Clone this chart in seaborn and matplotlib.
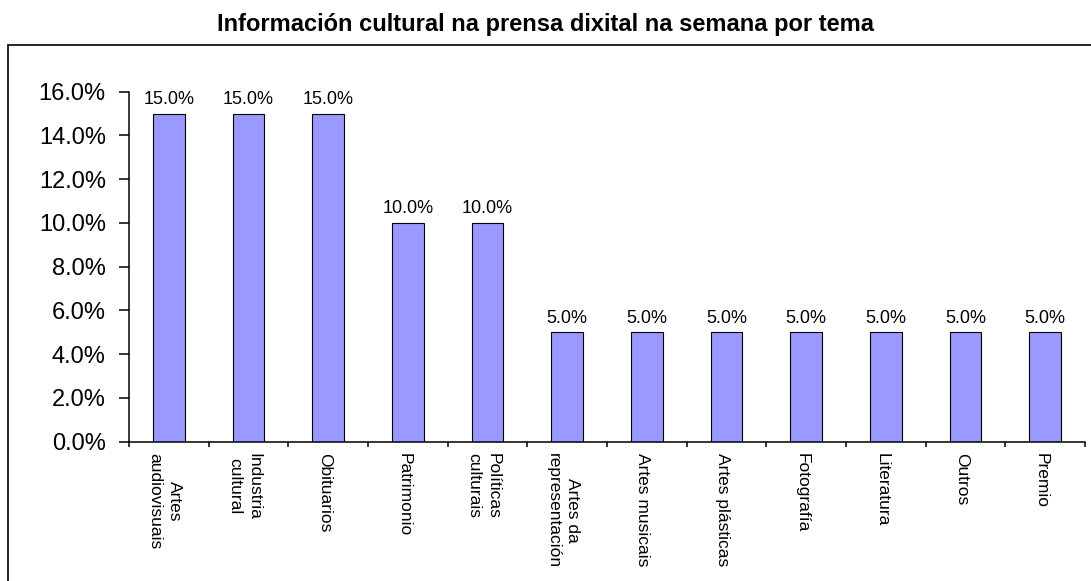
import matplotlib
matplotlib.use("Agg")
import matplotlib.pyplot as plt
from matplotlib.patches import Rectangle
from matplotlib.ticker import PercentFormatter, FixedLocator
from matplotlib.transforms import ScaledTranslation
import seaborn as sns
import numpy as np

# datos leídos do gráfico
categorias = ["Artes\naudiovisuais", "Industria\ncultural", "Obituarios",
              "Patrimonio", "Políticas\nculturais", "Artes da\nrepresentación",
              "Artes musicais", "Artes plásticas", "Fotografía", "Literatura",
              "Outros", "Premio"]
porcentaxes = [0.15, 0.15, 0.15, 0.10, 0.10, 0.05,
               0.05, 0.05, 0.05, 0.05, 0.05, 0.05]
yticks = [0.0, 0.02, 0.04, 0.06, 0.08, 0.10, 0.12, 0.14, 0.16]
titulo = "Información cultural na prensa dixital na semana por tema"

sns.set_style("white")
plt.rcParams['font.family'] = ['Liberation Sans', 'DejaVu Sans']
plt.rcParams['text.color'] = 'black'
plt.rcParams['xtick.color'] = 'black'
plt.rcParams['ytick.color'] = 'black'

fig = plt.figure(figsize=(10.91, 5.81), dpi=100)
ax = fig.add_axes([0.1182, 0.2398, 0.9945 - 0.1182, 0.8422 - 0.2398])

sns.barplot(x=categorias, y=porcentaxes, color="#9999FF", saturation=1,
            edgecolor="black", linewidth=0.8, width=0.4, ax=ax)

ax.set_xlim(-0.5, len(categorias) - 0.5)
ax.set_ylim(0, 0.16)
ax.set_yticks(yticks)
ax.yaxis.set_major_formatter(PercentFormatter(xmax=1, decimals=1))
ax.tick_params(axis="y", labelsize=17, length=7.2, width=1.1, pad=9.5,
               direction="out", left=True, color="black", labelcolor="black")

# etiquetas das categorías sen marca; marcas nos límites
ax.set_xticks(range(len(categorias)))
ax.set_xticklabels(categorias, rotation=270, fontsize=12.5,
                   multialignment="center", linespacing=1.35)
ax.tick_params(axis="x", which="major", length=0, pad=8, labelcolor="black")
ax.xaxis.set_minor_locator(FixedLocator(np.arange(-0.5, len(categorias), 1)))
ax.tick_params(axis="x", which="minor", length=3.6, width=1.1,
               direction="out", bottom=True, color="black")
desprazamento = ScaledTranslation(-4 / 100, 0, fig.dpi_scale_trans)
for etiqueta in ax.get_xticklabels():
    etiqueta.set_transform(etiqueta.get_transform() + desprazamento)

ax.set_xlabel("")
ax.set_ylabel("")
for lado in ["top", "right"]:
    ax.spines[lado].set_visible(False)
for lado in ["left", "bottom"]:
    ax.spines[lado].set_color("black")
    ax.spines[lado].set_linewidth(1.1)

ax.bar_label(ax.containers[0], labels=[f"{v * 100:.1f}%" for v in porcentaxes],
             padding=4, fontsize=13, color="black")

fig.text(0.5, 1 - 31 / 581, titulo, ha="center", va="baseline",
         fontsize=17, fontweight="bold", color="black")

fig.patches.append(Rectangle((8 / 1091, -0.02), 1.05, 0.02 + (581 - 44.7) / 581,
                             transform=fig.transFigure, fill=False,
                             edgecolor="black", linewidth=1.2))

fig.savefig("out.png", dpi=100)
